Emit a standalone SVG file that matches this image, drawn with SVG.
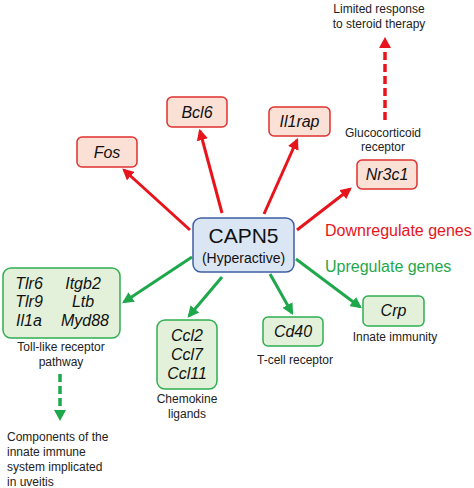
<svg xmlns="http://www.w3.org/2000/svg" width="474" height="488" viewBox="0 0 474 488">
<style>
.red{fill:#fbe0d6;stroke:#e0302f;stroke-width:1.5}
.grn{fill:#e3f1da;stroke:#2fae52;stroke-width:1.5}
.gene{font-family:"Liberation Sans",Arial,sans-serif;font-style:italic;font-size:16px;fill:#111;text-anchor:middle}
.lbl{font-family:"Liberation Sans",Arial,sans-serif;font-size:12px;fill:#222;text-anchor:middle}
.ra{stroke:#e8141c;stroke-width:3;fill:none;marker-end:url(#mr)}
.ga{stroke:#1fa84b;stroke-width:3;fill:none;marker-end:url(#mg)}
</style>
<defs>
<marker id="mr" viewBox="0 0 10 10" refX="8" refY="5" markerWidth="3.8" markerHeight="3.8" orient="auto" markerUnits="strokeWidth"><path d="M0,0L10,5L0,10z" fill="#e8141c"/></marker>
<marker id="mg" viewBox="0 0 10 10" refX="8" refY="5" markerWidth="3.8" markerHeight="3.8" orient="auto" markerUnits="strokeWidth"><path d="M0,0L10,5L0,10z" fill="#1fa84b"/></marker>
</defs>
<rect width="474" height="488" fill="#fff"/>
<g id="connectors">
<line class="ra" x1="190" y1="230" x2="124" y2="170"/>
<line class="ra" x1="222" y1="213" x2="200" y2="131"/>
<line class="ra" x1="264" y1="214" x2="297" y2="140"/>
<line class="ra" x1="297" y1="230" x2="350" y2="189"/>
<line x1="385" y1="120" x2="385" y2="46" stroke="#e8141c" stroke-width="3.5" stroke-dasharray="8,4"/>
<path d="M379,48L385,37L391,48z" fill="#e8141c"/>
<line class="ga" x1="192" y1="257" x2="124" y2="302"/>
<line class="ga" x1="222" y1="277" x2="189" y2="316"/>
<line class="ga" x1="270" y1="274" x2="292" y2="313"/>
<line class="ga" x1="296" y1="259" x2="360" y2="307"/>
<line x1="60" y1="374" x2="60" y2="410" stroke="#1fa84b" stroke-width="3.5" stroke-dasharray="8,4"/>
<path d="M54,410L60,421L66,410z" fill="#1fa84b"/>
</g>
<g id="capn5">
<rect x="193" y="218" width="101" height="54" rx="8" fill="#dbe6f5" stroke="#3f5ea3" stroke-width="1.5"/>
<text x="243.5" y="243" font-family="Liberation Sans,Arial,sans-serif" font-size="21" text-anchor="middle" fill="#111">CAPN5</text>
<text x="243.5" y="263" font-family="Liberation Sans,Arial,sans-serif" font-size="14" text-anchor="middle" fill="#111">(Hyperactive)</text>
</g>
<g id="fos"><rect class="red" x="77" y="137" width="60" height="30" rx="5"/><text class="gene" x="107" y="158">Fos</text></g>
<g id="bcl6"><rect class="red" x="167" y="97" width="60" height="30" rx="5"/><text class="gene" x="197" y="118">Bcl6</text></g>
<g id="il1rap"><rect class="red" x="269" y="107" width="61" height="29" rx="5"/><text class="gene" x="299.5" y="127">Il1rap</text></g>
<g id="nr3c1"><rect class="red" x="357" y="160" width="60" height="29" rx="5"/><text class="gene" x="387" y="180">Nr3c1</text>
<text class="lbl" x="383" y="137">Glucocorticoid</text><text class="lbl" x="383" y="151">receptor</text></g>
<g id="limited"><text class="lbl" x="379" y="13">Limited response</text><text class="lbl" x="379" y="28">to steroid therapy</text></g>
<text x="325" y="236" font-family="Liberation Sans,Arial,sans-serif" font-size="16" fill="#e8141c">Downregulate genes</text>
<text x="325" y="272" font-family="Liberation Sans,Arial,sans-serif" font-size="16" fill="#1fa84b">Upregulate genes</text>
<g id="tlr">
<rect class="grn" x="3" y="268" width="117" height="70" rx="8"/>
<text class="gene" x="29" y="289">Tlr6</text><text class="gene" x="29" y="307">Tlr9</text><text class="gene" x="29" y="326">Il1a</text>
<text class="gene" x="83" y="289">Itgb2</text><text class="gene" x="83" y="307">Ltb</text><text class="gene" x="85" y="326">Myd88</text>
<text class="lbl" x="61" y="351">Toll-like receptor</text><text class="lbl" x="61" y="366">pathway</text>
</g>
<g id="components">
<text class="lbl" style="text-anchor:start" x="7" y="441">Components of the</text>
<text class="lbl" style="text-anchor:start" x="7" y="456">innate immune</text>
<text class="lbl" style="text-anchor:start" x="7" y="471">system implicated</text>
<text class="lbl" style="text-anchor:start" x="7" y="486">in uveitis</text>
</g>
<g id="ccl">
<rect class="grn" x="157" y="320" width="60" height="69" rx="8"/>
<text class="gene" x="187" y="341">Ccl2</text><text class="gene" x="187" y="360">Ccl7</text><text class="gene" x="187" y="379">Ccl11</text>
<text class="lbl" x="187" y="403">Chemokine</text><text class="lbl" x="187" y="418">ligands</text>
</g>
<g id="cd40">
<rect class="grn" x="263" y="317" width="60" height="29" rx="5"/><text class="gene" x="293" y="337">Cd40</text>
<text class="lbl" x="295" y="364">T-cell receptor</text>
</g>
<g id="crp">
<rect class="grn" x="363" y="296" width="61" height="30" rx="5"/><text class="gene" x="393.5" y="316">Crp</text>
<text class="lbl" x="395" y="341">Innate immunity</text>
</g>
</svg>
